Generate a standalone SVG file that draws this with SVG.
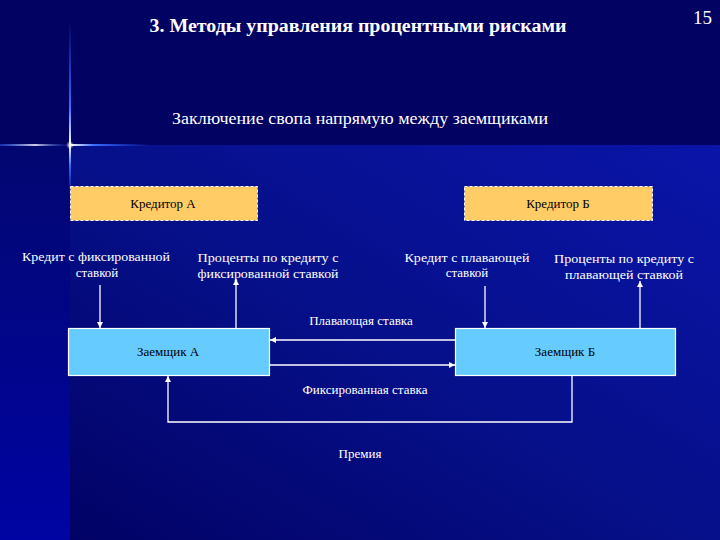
<svg xmlns="http://www.w3.org/2000/svg" width="720" height="540" viewBox="0 0 720 540">
<defs>
<linearGradient id="main" x1="1" y1="0" x2="0" y2="1">
<stop offset="0" stop-color="#0a14a8"/>
<stop offset="0.5" stop-color="#06108a"/>
<stop offset="1" stop-color="#020266"/>
</linearGradient>
<linearGradient id="leftStrip" x1="0" y1="0" x2="0" y2="1">
<stop offset="0" stop-color="#020670"/>
<stop offset="1" stop-color="#0004a2"/>
</linearGradient>
<linearGradient id="hglow" x1="0" y1="0" x2="1" y2="0">
<stop offset="0" stop-color="#2a5cff" stop-opacity="0.6"/>
<stop offset="0.5" stop-color="#ffffff"/>
<stop offset="1" stop-color="#2a5cff" stop-opacity="0"/>
</linearGradient>
<linearGradient id="hglowR" x1="0" y1="0" x2="1" y2="0">
<stop offset="0" stop-color="#ffffff"/>
<stop offset="0.3" stop-color="#3a6cff"/>
<stop offset="1" stop-color="#2a5cff" stop-opacity="0"/>
</linearGradient>
<linearGradient id="vglowU" x1="0" y1="1" x2="0" y2="0">
<stop offset="0" stop-color="#ffffff"/>
<stop offset="0.3" stop-color="#3a6cff"/>
<stop offset="1" stop-color="#2a5cff" stop-opacity="0"/>
</linearGradient>
<linearGradient id="vglowD" x1="0" y1="0" x2="0" y2="1">
<stop offset="0" stop-color="#ffffff"/>
<stop offset="0.4" stop-color="#3a6cff"/>
<stop offset="1" stop-color="#2a5cff" stop-opacity="0"/>
</linearGradient>
<radialGradient id="star">
<stop offset="0" stop-color="#ffffff"/>
<stop offset="1" stop-color="#ffffff" stop-opacity="0"/>
</radialGradient>
<marker id="ah" viewBox="0 0 10 10" refX="10" refY="5" markerWidth="6" markerHeight="6" orient="auto" markerUnits="userSpaceOnUse">
<path d="M0,0 L10,5 L0,10 z" fill="#ffffff"/>
</marker>
<style>
.conn{stroke:#ffffff;stroke-width:1.3;fill:none;}
.cred{fill:#ffcc66;stroke:#ffffff;stroke-width:1;stroke-dasharray:3,2;}
.borr{fill:#66ccff;stroke:#ffffff;stroke-width:1.2;}
</style>
</defs>
<!-- background -->
<rect x="0" y="0" width="720" height="540" fill="#020262"/>
<rect x="70" y="145" width="650" height="395" fill="url(#main)"/>
<rect x="0" y="145" width="70" height="395" fill="url(#leftStrip)"/>
<!-- glow cross -->
<rect x="0" y="144" width="70" height="2" fill="url(#hglow)" opacity="0.8"/>
<rect x="70" y="144" width="80" height="2" fill="url(#hglowR)"/>
<rect x="69" y="20" width="2" height="125" fill="url(#vglowU)"/>
<rect x="69" y="145" width="2" height="50" fill="url(#vglowD)"/>
<circle cx="70" cy="145" r="4" fill="url(#star)"/>

<g font-family="Liberation Serif, DejaVu Serif, serif" fill="#ffffff">
<text x="358" y="32" text-anchor="middle" font-weight="bold" font-size="18" textLength="417" lengthAdjust="spacingAndGlyphs">3. Методы управления процентными рисками</text>
<text x="712" y="24" text-anchor="end" font-size="19">15</text>
<text x="360" y="124" text-anchor="middle" font-size="16" textLength="376" lengthAdjust="spacingAndGlyphs">Заключение свопа напрямую между заемщиками</text>
</g>

<g font-family="Liberation Serif, DejaVu Serif, serif" font-size="13" fill="#000000">
<g id="creditorA">
<rect class="cred" x="70.5" y="186.5" width="187" height="34"/>
<text x="163" y="208" text-anchor="middle">Кредитор А</text>
</g>
<g id="creditorB">
<rect class="cred" x="464.5" y="186.5" width="188" height="34"/>
<text x="558" y="208" text-anchor="middle">Кредитор Б</text>
</g>
<g id="borrowerA">
<rect class="borr" x="68.5" y="328.5" width="201" height="47"/>
<text x="168" y="356" text-anchor="middle">Заемщик А</text>
</g>
<g id="borrowerB">
<rect class="borr" x="455.5" y="328.5" width="220" height="47"/>
<text x="565" y="356" text-anchor="middle">Заемщик Б</text>
</g>
</g>

<g id="labels" font-family="Liberation Serif, DejaVu Serif, serif" font-size="13" fill="#ffffff">
<text x="96" y="261" text-anchor="middle" textLength="148" lengthAdjust="spacingAndGlyphs">Кредит с фиксированной</text>
<text x="97" y="277" text-anchor="middle">ставкой</text>
<text x="268" y="262" text-anchor="middle" textLength="141" lengthAdjust="spacingAndGlyphs">Проценты по кредиту с</text>
<text x="268" y="278" text-anchor="middle" textLength="141" lengthAdjust="spacingAndGlyphs">фиксированной ставкой</text>
<text x="467" y="262" text-anchor="middle" textLength="125" lengthAdjust="spacingAndGlyphs">Кредит с плавающей</text>
<text x="467" y="277" text-anchor="middle">ставкой</text>
<text x="624" y="263" text-anchor="middle" textLength="140" lengthAdjust="spacingAndGlyphs">Проценты по кредиту с</text>
<text x="624" y="279" text-anchor="middle" textLength="118" lengthAdjust="spacingAndGlyphs">плавающей ставкой</text>
<text x="361" y="325" text-anchor="middle">Плавающая ставка</text>
<text x="365" y="394" text-anchor="middle">Фиксированная ставка</text>
<text x="360" y="458" text-anchor="middle">Премия</text>
</g>

<g id="connectors">
<line class="conn" x1="100" y1="285" x2="100" y2="328" marker-end="url(#ah)"/>
<line class="conn" x1="236" y1="328" x2="236" y2="279" marker-end="url(#ah)"/>
<line class="conn" x1="485" y1="286" x2="485" y2="328" marker-end="url(#ah)"/>
<line class="conn" x1="640" y1="328" x2="640" y2="281" marker-end="url(#ah)"/>
<line class="conn" x1="455" y1="340" x2="270" y2="340" marker-end="url(#ah)"/>
<line class="conn" x1="270" y1="365" x2="455" y2="365" marker-end="url(#ah)"/>
<polyline class="conn" points="572,376 572,422 168,422 168,376" marker-end="url(#ah)"/>
</g>
</svg>
